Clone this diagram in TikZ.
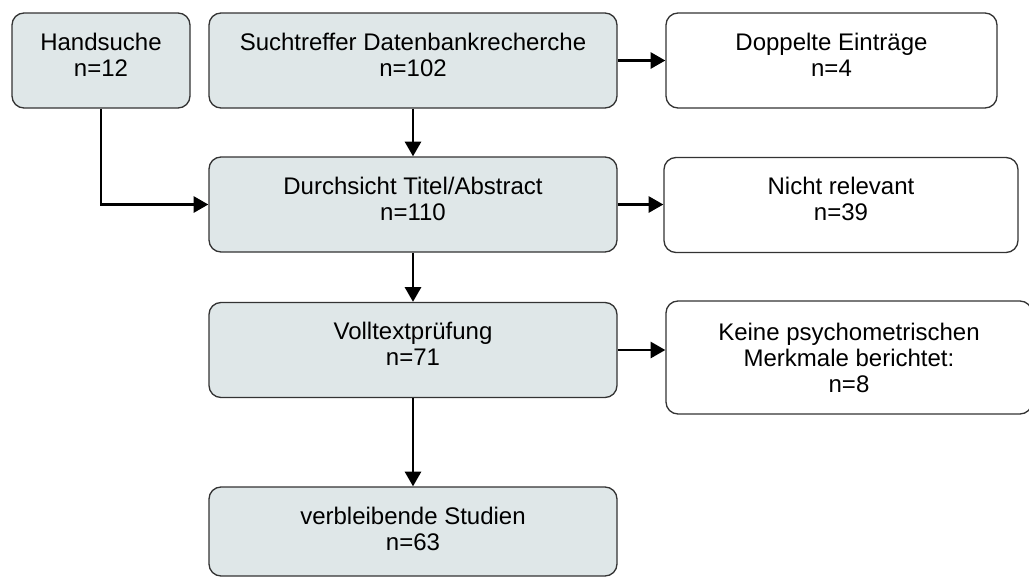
\documentclass[tikz,border=0pt]{standalone}
\usepackage{fontspec}
\setmainfont{Liberation Sans}
\usetikzlibrary{arrows.meta}
\definecolor{boxfill}{RGB}{223,231,232}
\tikzset{line cap=round,line join=round}
\tikzset{
    box/.style={draw=black!80, line width=1pt, rounded corners=9pt, align=center,
        font=\fontsize{18}{19.5}\selectfont, text depth=9pt, minimum height=71.25pt},
    step box/.style={box, fill=boxfill, minimum width=306pt},
    out box/.style={box, fill=white},
    arr/.style={line width=2pt, -{Triangle[length=11pt,width=12pt]}}
}

\begin{document}
\begin{tikzpicture}[x=.75pt,y=-.75pt]
    \useasboundingbox (0,0) rectangle (1029,576);
    % main column
    \node[name=hand, box, fill=boxfill, minimum width=133.5pt] at (101,60.5) {Handsuche\\n=12};
    \node[name=such, step box] at (413,60.5) {Suchtreffer Datenbankrecherche\\n=102};
    \node[name=durch, step box] at (413,204.5) {Durchsicht Titel/Abstract\\n=110};
    \node[name=voll, step box] at (413,350) {Volltextprüfung\\n=71};
    \node[name=verb, step box, minimum height=66.75pt, text depth=4pt] at (413,531.5) {verbleibende Studien\\n=63};
    % excluded
    \node[name=dopp, out box, minimum width=248.25pt] at (831.5,60.5) {Doppelte Einträge\\n=4};
    \node[name=nicht, out box, minimum width=265.5pt] at (841,205) {Nicht relevant\\n=39};
    \node[name=keine, out box, minimum width=274.5pt, minimum height=84.75pt, text depth=0pt] at (849,357.5) {Keine psychometrischen\\Merkmale berichtet:\\n=8};
    % arrows
    \draw[arr] (hand.south) |- (durch.west);
    \foreach \a/\b in {such/durch, durch/voll, voll/verb}{%
        \draw[arr] (\a.south) -- (\b.north);
    }
    \foreach \a/\b in {such/dopp, durch/nicht}{%
        \draw[arr] (\a.east) -- (\a.east -| \b.west);
    }
    \draw[arr] (voll.east) -- (voll.east -| keine.west);
\end{tikzpicture}
\end{document}
